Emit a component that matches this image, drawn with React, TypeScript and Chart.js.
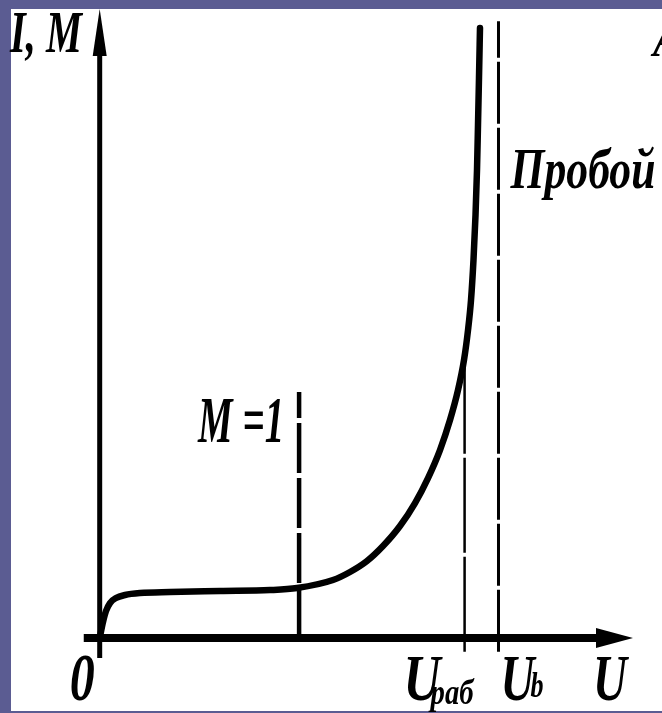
import React, { useEffect, useRef } from "react";
import { Chart, registerables } from "chart.js";
Chart.register(...registerables);

// Avalanche multiplication curve I, M vs U
const curveU = [0, 0.083, 0.158, 0.258, 0.409, 0.635, 1.011, 1.763, 3.017, 4.271, 4.948, 5.85, 6.277, 6.703, 7.104, 7.53, 7.907, 8.233, 8.533, 8.784, 8.985, 9.135, 9.236, 9.311, 9.373, 9.424, 9.461, 9.486, 9.511, 9.536];
const curveIM = [0, 0.348, 0.587, 0.761, 0.87, 0.935, 0.978, 1.0, 1.022, 1.043, 1.087, 1.261, 1.435, 1.674, 2.0, 2.435, 2.935, 3.478, 4.087, 4.739, 5.391, 6.043, 6.696, 7.348, 8.217, 9.196, 10.174, 11.152, 12.174, 13.261];

// Vertical marker lines: M = 1, U_раб, U_b (breakdown)
const markerNames = ["M=1", "Uраб", "Ub"];
const markerU = [5, 9.15, 10];
const markerTop = [5.35, 6.1, 13.41];
const markerBottom = [0, -0.3, -0.3];

// Axis extents
const uMin = -2.5;
const uMax = 14.1;
const imMin = -1.63;
const imMax = 13.87;

const yAxisLabel = "I, M";
const xAxisLabel = "U";
const originLabel = "0";
const breakdownLabel = "Пробой";
const mOneLabel = "M =1";
const uWorkMain = "U";
const uWorkSub = "раб";
const uBreakMain = "U";
const uBreakSub = "b";
const cutLabel = "А";

const FONT = '"Liberation Serif", "Times New Roman", serif';

function fitText(ctx: CanvasRenderingContext2D, text: string, left: number, baseline: number, size: number, width: number) {
  ctx.font = `italic bold ${size}px ${FONT}`;
  const w = ctx.measureText(text).width;
  const sx = width / w;
  ctx.save();
  ctx.translate(left, baseline);
  ctx.scale(sx, 1);
  ctx.textAlign = "left";
  ctx.textBaseline = "alphabetic";
  ctx.fillStyle = "#000";
  ctx.fillText(text, 0, 0);
  ctx.restore();
}

const annotationPlugin = {
  id: "annot",
  beforeDatasetsDraw(chart: any) {
    const ctx: CanvasRenderingContext2D = chart.ctx;
    const xs = chart.scales.x;
    const ys = chart.scales.y;
    const x0 = xs.getPixelForValue(0);
    const y0 = ys.getPixelForValue(0);
    ctx.save();
    ctx.fillStyle = "#000";
    ctx.strokeStyle = "#000";
    // y axis
    ctx.lineWidth = 5;
    ctx.beginPath();
    ctx.moveTo(x0, ys.getPixelForValue(-0.435));
    ctx.lineTo(x0, 50);
    ctx.stroke();
    ctx.beginPath();
    ctx.moveTo(x0, 9);
    ctx.lineTo(x0 + 7, 56);
    ctx.lineTo(x0 - 7, 56);
    ctx.closePath();
    ctx.fill();
    // x axis
    ctx.lineWidth = 8;
    ctx.beginPath();
    ctx.moveTo(xs.getPixelForValue(-0.4), y0);
    ctx.lineTo(600, y0);
    ctx.stroke();
    ctx.beginPath();
    ctx.moveTo(633, y0);
    ctx.lineTo(596, y0 - 10);
    ctx.lineTo(596, y0 + 10);
    ctx.closePath();
    ctx.fill();
    ctx.restore();
  },
  afterDatasetsDraw(chart: any) {
    const ctx: CanvasRenderingContext2D = chart.ctx;
    const xs = chart.scales.x;
    const ys = chart.scales.y;
    const x0 = xs.getPixelForValue(0);
    const y0 = ys.getPixelForValue(0);
    const xw = xs.getPixelForValue(markerU[1]);
    const xb = xs.getPixelForValue(markerU[2]);
    const xm = xs.getPixelForValue(markerU[0]);
    fitText(ctx, yAxisLabel, 10, 52, 60, 72);
    fitText(ctx, originLabel, x0 - 30, y0 + 62, 68, 25);
    fitText(ctx, uWorkMain, xw - 61, y0 + 62, 66, 37);
    fitText(ctx, uWorkSub, xw - 34, y0 + 66, 36, 43);
    fitText(ctx, uBreakMain, xb + 2, y0 + 62, 66, 34);
    fitText(ctx, uBreakSub, xb + 32, y0 + 59, 36, 13);
    fitText(ctx, xAxisLabel, 593, y0 + 62, 66, 34);
    fitText(ctx, mOneLabel, xm - 101, ys.getPixelForValue(markerTop[0]) + 50, 66, 86);
    fitText(ctx, breakdownLabel, xb + 12, 188, 58, 145);
    fitText(ctx, cutLabel, 653, 56, 50, 30);
  },
};

export default function App() {
  const ref = useRef<HTMLCanvasElement | null>(null);
  useEffect(() => {
    if (!ref.current) return;
    const curve = curveU.map((u, i) => ({ x: u, y: curveIM[i] }));
    const dashes = [[50, 5], [95, 4], [62, 4]];
    const widths = [4.5, 2.5, 3];
    const markerSets = markerNames.map((name, i) => ({
      label: name,
      data: [
        { x: markerU[i], y: markerBottom[i] },
        { x: markerU[i], y: markerTop[i] },
      ],
      borderColor: "#000",
      borderWidth: widths[i],
      borderDash: dashes[i],
      pointRadius: 0,
      fill: false,
    }));
    const chart = new Chart(ref.current, {
      type: "line",
      data: {
        datasets: [
          {
            label: "I, M",
            data: curve,
            borderColor: "#000",
            borderWidth: 6.5,
            pointRadius: 0,
            fill: false,
            cubicInterpolationMode: "monotone",
            borderCapStyle: "round",
          } as any,
          ...markerSets,
        ],
      },
      options: {
        animation: false,
        responsive: false,
        devicePixelRatio: 1,
        layout: { padding: 0 },
        plugins: { legend: { display: false }, tooltip: { enabled: false } },
        scales: {
          x: { type: "linear", min: uMin, max: uMax, display: false },
          y: { type: "linear", min: imMin, max: imMax, display: false },
        },
      },
      plugins: [annotationPlugin],
    });
    return () => chart.destroy();
  }, []);
  return (
    <div style={{ position: "fixed", left: 0, top: 0, width: 662, height: 713, background: "#5b5c92", overflow: "hidden" }}>
      <div style={{ position: "absolute", left: 11, top: 9, width: 651, height: 702, background: "#fff" }} />
      <canvas ref={ref} width={662} height={713} style={{ position: "absolute", left: 0, top: 0, width: 662, height: 713 }} />
    </div>
  );
}
